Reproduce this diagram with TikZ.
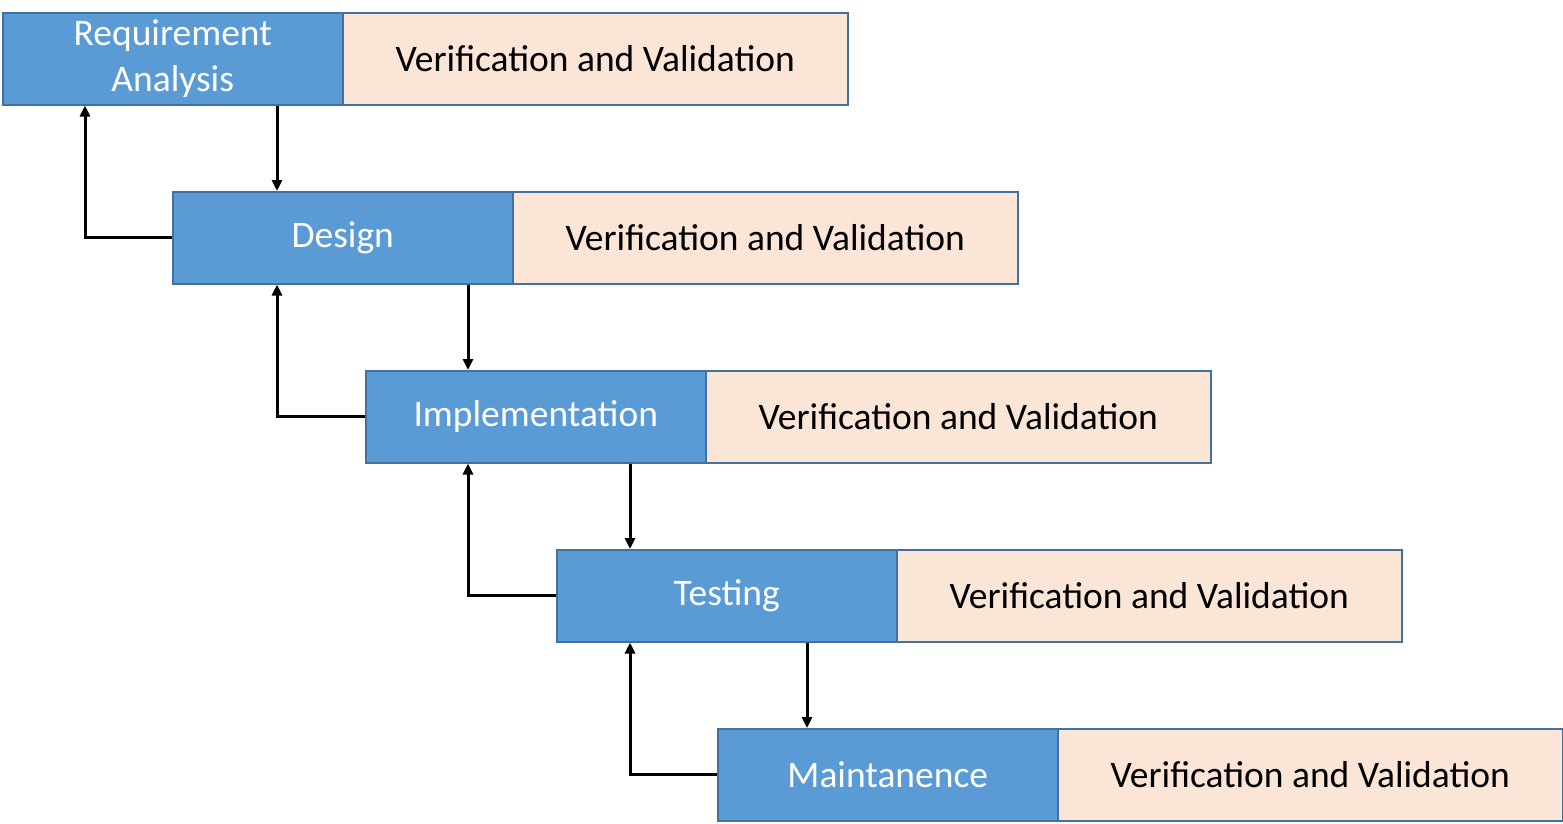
\documentclass[tikz,border=0pt]{standalone}
\usepackage{fontspec}
\setmainfont{Carlito}
\usetikzlibrary{arrows.meta}
\definecolor{phase}{HTML}{5B9BD5}
\definecolor{vv}{HTML}{FBE5D6}
\definecolor{edge}{HTML}{41719C}
\tikzset{
  phasebox/.style={draw=edge, line width=1.5pt, fill=phase, text=white, minimum width=340pt, minimum height=92pt, inner sep=0pt, anchor=north west, align=center, font=\fontsize{37.5}{45.5}\selectfont},
  vvbox/.style={draw=edge, line width=1.5pt, fill=vv, text=black, minimum width=505pt, minimum height=92pt, inner sep=0pt, anchor=north west, font=\fontsize{37.5}{45.5}\selectfont},
  arr/.style={line width=3pt, -{Triangle[length=11pt,width=10pt]}}
}
\begin{document}
\begin{tikzpicture}[x=1pt,y=-1pt]
\useasboundingbox (0,0) rectangle (1563,823);
\node[vvbox] (v1) at (342,12) {Verification and Validation};
\node[phasebox] (p1) at (2,12) {Requirement\\Analysis};
\node[vvbox] (v2) at (512,191) {Verification and Validation};
\node[phasebox] (p2) at (172,191) {Design};
\node[vvbox] (v3) at (705,370) {Verification and Validation};
\node[phasebox] (p3) at (365,370) {Implementation};
\node[vvbox] (v4) at (896,549) {Verification and Validation};
\node[phasebox] (p4) at (556,549) {Testing};
\node[vvbox] (v5) at (1057,728) {Verification and Validation};
\node[phasebox] (p5) at (717,728) {Maintanence};
\coordinate (c0) at (85,0);
\coordinate (c1) at (277,0);
\coordinate (c2) at (468,0);
\coordinate (c3) at (630,0);
\coordinate (c4) at (807,0);
% forward arrows
\draw[arr] (p1.south -| c1) -- (p2.north -| c1);
\draw[arr] (p2.south -| c2) -- (p3.north -| c2);
\draw[arr] (p3.south -| c3) -- (p4.north -| c3);
\draw[arr] (p4.south -| c4) -- (p5.north -| c4);
% feedback arrows
\draw[arr] (p2.west) -| (p1.south -| c0);
\draw[arr] (p3.west) -| (p2.south -| c1);
\draw[arr] (p4.west) -| (p3.south -| c2);
\draw[arr] (p5.west) -| (p4.south -| c3);
\end{tikzpicture}
\end{document}
